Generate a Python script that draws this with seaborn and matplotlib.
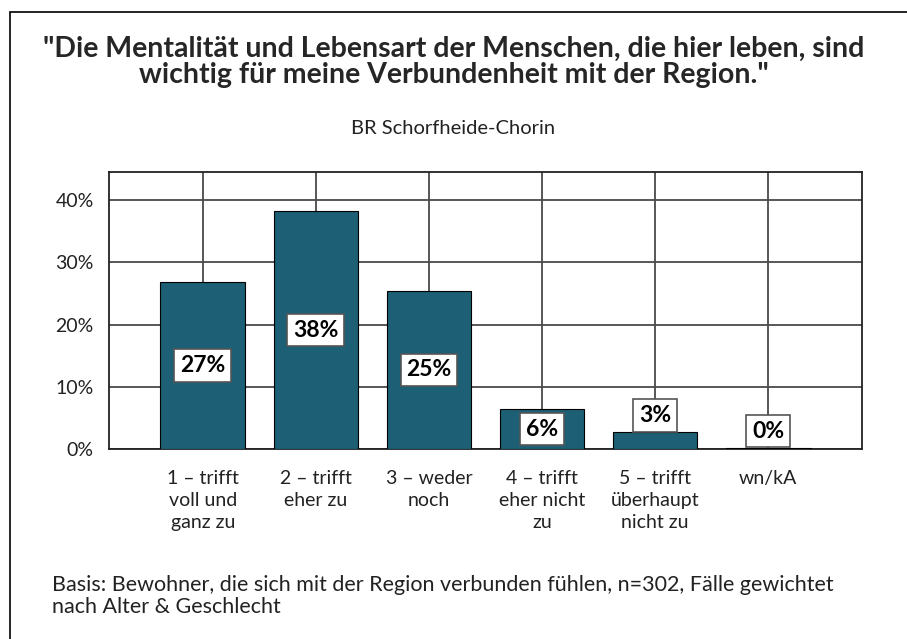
import matplotlib
matplotlib.use("Agg")
import matplotlib.pyplot as plt
import seaborn as sns
import pandas as pd
from matplotlib.patches import Rectangle

# Daten aus der Grafik
categories = ["1 – trifft\nvoll und\nganz zu", "2 – trifft\neher zu", "3 – weder\nnoch",
              "4 – trifft\neher nicht\nzu", "5 – trifft\nüberhaupt\nnicht zu", "wn/kA"]
values = [26.9, 38.2, 25.4, 6.4, 2.7, 0.2]
y_ticks = [0, 10, 20, 30, 40]
y_tick_labels = ["0%", "10%", "20%", "30%", "40%"]

title = '"Die Mentalität und Lebensart der Menschen, die hier leben, sind\nwichtig für meine Verbundenheit mit der Region."'
subtitle = "BR Schorfheide-Chorin"
footnote = "Basis: Bewohner, die sich mit der Region verbunden fühlen, n=302, Fälle gewichtet\nnach Alter & Geschlecht"

sns.set_style("white")
plt.rcParams['font.family'] = ['Lato', 'DejaVu Sans']

bar_color = "#1d5f74"
grid_color = "#4a4a4a"

df = pd.DataFrame({"cat": categories, "val": values})

fig = plt.figure(figsize=(9.07, 6.39), dpi=100)
ax = fig.add_axes([109/907, 1 - 449/639, (862 - 109)/907, (449 - 172)/639])

sns.barplot(data=df, x="cat", y="val", color=bar_color, width=0.75,
            edgecolor="black", linewidth=0.8, saturation=1, ax=ax, zorder=3)

ax.set_xlim(-0.83, 5.83)
ax.set_ylim(0, 44.5)
ax.set_yticks(y_ticks)
ax.set_yticklabels(y_tick_labels, fontsize=14, color="#222222")
ax.tick_params(axis="x", labelsize=14, length=10, width=1.3, color=grid_color,
               pad=5, labelcolor="#222222")
ax.tick_params(axis="y", length=10, width=1.3, color=grid_color, pad=1)
for lbl in ax.get_xticklabels():
    lbl.set_linespacing(1.38)
    lbl.set_verticalalignment("top")
ax.set_xlabel("")
ax.set_ylabel("")
ax.grid(True, color=grid_color, linewidth=1.3, zorder=0)
ax.set_axisbelow(True)
for s in ax.spines.values():
    s.set_color("#222222")
    s.set_linewidth(1.3)

# Wertelabels
for i, v in enumerate(values):
    txt = f"{v:.0f}%"
    if v >= 5:
        ypos, va = v / 2, "center"
    else:
        ypos, va = v + 1.0, "bottom"
    ax.text(i, ypos, txt, ha="center", va=va, fontsize=16.5, fontweight="bold",
            color="black", zorder=5,
            bbox=dict(boxstyle="square,pad=0.25", facecolor="white",
                      edgecolor="#555555", linewidth=1.2))

fig.text(0.5, 1 - 62/639, title, ha="center", va="center", fontsize=20.5,
         fontweight="bold", linespacing=1.0)
fig.text(0.5, 1 - 128/639, subtitle, ha="center", va="center", fontsize=14.5,
         color="#222222")
fig.text(52/907, 1 - 596/639, footnote, ha="left", va="center", fontsize=15.5,
         color="#222222", linespacing=1.15)

# Rahmen
fig.patches.append(Rectangle((10/907, -0.1), 1.2, 1 - 12/639 + 0.1,
                             transform=fig.transFigure, fill=False,
                             edgecolor="black", linewidth=1.2))

fig.savefig("out.png", dpi=100)
